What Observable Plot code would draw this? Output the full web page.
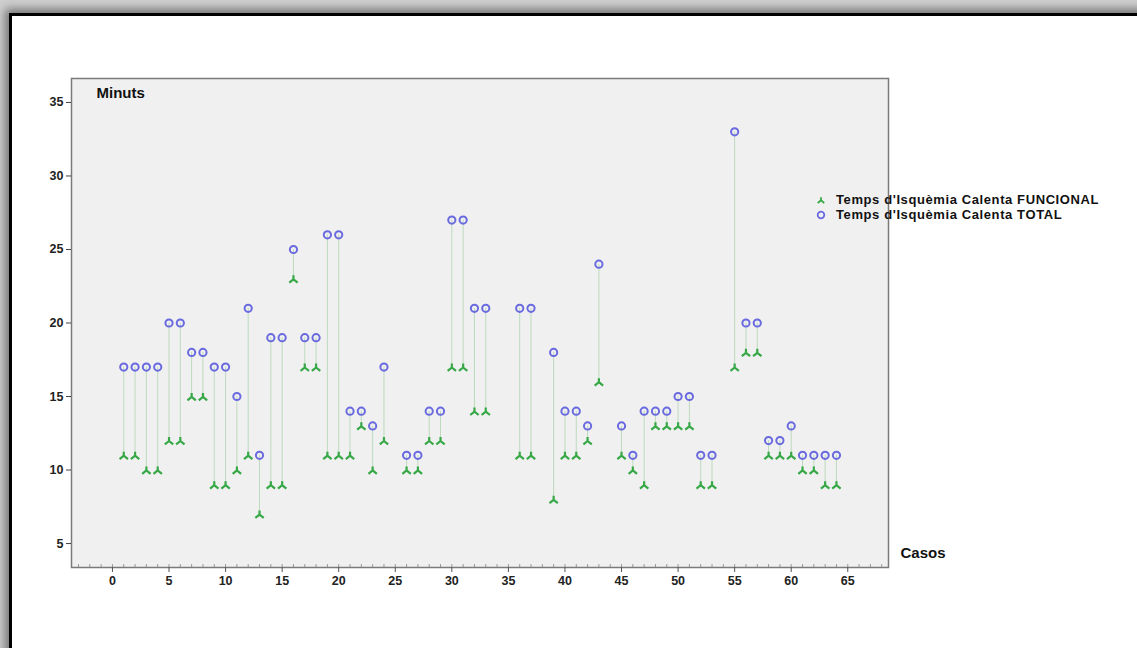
<!DOCTYPE html>
<html>
<head>
<meta charset="utf-8">
<script src="https://cdn.jsdelivr.net/npm/d3@7"></script>
<script src="https://cdn.jsdelivr.net/npm/@observablehq/plot@0.6"></script>
<style>
  html, body { margin: 0; padding: 0; width: 1137px; height: 648px; overflow: hidden; background: #cfcfcf; }
  #frame { position: absolute; left: 9px; top: 13px; width: 1200px; height: 700px; background: #fff;
           border: 3px solid #000; box-shadow: 0 0 9px 4px rgba(0,0,0,0.45); }
  #chart { position: absolute; left: 0; top: 0; }
  #legend { position: absolute; left: 814px; top: 192px; font: bold 13px "Liberation Sans", Arial, sans-serif; color: #111; letter-spacing: 0.6px; }
  #legend div { display: flex; align-items: center; height: 15px; line-height: 15px; white-space: nowrap; }
  #legend svg { margin-right: 8px; }
</style>
</head>
<body>
<div id="frame"></div>
<div id="chart"></div>
<div id="legend"></div>
<script>
const cases = [1,2,3,4,5,6,7,8,9,10,11,12,13,14,15,16,17,18,19,20,21,22,23,24,26,27,28,29,30,31,32,33,36,37,39,40,41,42,43,45,46,47,48,49,50,51,52,53,55,56,57,58,59,60,61,62,63,64];
const funcional = [11,11,10,10,12,12,15,15,9,9,10,11,7,9,9,23,17,17,11,11,11,13,10,12,10,10,12,12,17,17,14,14,11,11,8,11,11,12,16,11,10,9,13,13,13,13,9,9,17,18,18,11,11,11,10,10,9,9];
const total = [17,17,17,17,20,20,18,18,17,17,15,21,11,19,19,25,19,19,26,26,14,14,13,17,11,11,14,14,27,27,21,21,21,21,18,14,14,13,24,13,11,14,14,14,15,15,11,11,33,20,20,12,12,13,11,11,11,11];
const seriesNames = ["Temps d'Isquèmia Calenta FUNCIONAL", "Temps d'Isquèmia Calenta TOTAL"];
const xTicks = [0,5,10,15,20,25,30,35,40,45,50,55,60,65];
const yTicks = [5,10,15,20,25,30,35];
const yLabel = "Minuts";
const xLabel = "Casos";

const greenColor = "#36a846";
const blueColor = "#6a6ae0";
const ruleColor = "#bcdabd";
const font = '"Liberation Sans", Arial, sans-serif';

const data = cases.map((c, i) => ({caso: c, funcional: funcional[i], total: total[i]}));

// inverted "Y" glyph (short stem up, two legs down), scaled by symbol size
const wyeDown = {
  draw(ctx, size) {
    const r = Math.sqrt(size / Math.PI);
    ctx.moveTo(0, r * 0.3);
    ctx.lineTo(0, -r * 0.9);
    ctx.moveTo(0, r * 0.1);
    ctx.lineTo(-r * 1.05, r * 0.95);
    ctx.moveTo(0, r * 0.1);
    ctx.lineTo(r * 1.05, r * 0.95);
  }
};

const minorTicks = d3.range(-3, 69);

const chart = Plot.plot({
  width: 1137,
  height: 648,
  marginLeft: 71,
  marginRight: 249,
  marginTop: 78,
  marginBottom: 81,
  style: {background: "transparent", fontFamily: font, fontSize: "12.5px", fontWeight: "bold", color: "#222"},
  x: {domain: [-3.62, 68.6]},
  y: {domain: [3.37, 36.63]},
  marks: [
    Plot.frame({fill: "#f0f0f0", stroke: "none"}),
    Plot.ruleX(minorTicks, {insetTop: 486, stroke: "#999", strokeWidth: 1}),
    Plot.ruleX(data, {x: "caso", y1: "funcional", y2: "total", stroke: ruleColor, strokeWidth: 1}),
    Plot.dot(data, {x: "caso", y: "total", r: 3.6, stroke: blueColor, strokeWidth: 2, fill: "none"}),
    Plot.dot(data, {x: "caso", y: "funcional", r: 4, symbol: wyeDown, fill: "none", stroke: greenColor, strokeWidth: 2.2, strokeLinecap: "butt"}),
    Plot.frame({stroke: "#7a7a7a", strokeWidth: 1.5}),
    Plot.axisY({ticks: yTicks, tickSize: 5, tickPadding: 3, label: null, stroke: "#444"}),
    Plot.axisX({ticks: xTicks, tickSize: 5, tickPadding: 4, label: null, stroke: "#555"}),
    Plot.text([yLabel], {frameAnchor: "top-left", dx: 25, dy: 9, textAnchor: "start", lineAnchor: "top", fontSize: 15, fontWeight: "bold", fill: "#111"}),
    Plot.text([xLabel], {frameAnchor: "bottom-right", dx: 12, dy: -14, textAnchor: "start", lineAnchor: "middle", fontSize: 15, fontWeight: "bold", fill: "#111"})
  ]
});
document.getElementById("chart").append(chart);

// legend
const legend = document.getElementById("legend");
seriesNames.forEach((name, i) => {
  const row = document.createElement("div");
  const s = d3.create("svg").attr("width", 14).attr("height", 12);
  if (i === 0) {
    s.append("path").attr("d", d3.symbol(wyeDown, 30)()).attr("transform", "translate(7,6)")
      .attr("fill", "none").attr("stroke", greenColor).attr("stroke-width", 1.8);
  } else {
    s.append("circle").attr("cx", 7).attr("cy", 6).attr("r", 3.3).attr("fill", "none").attr("stroke", blueColor).attr("stroke-width", 1.8);
  }
  row.append(s.node());
  const t = document.createElement("span");
  t.textContent = name;
  row.append(t);
  legend.append(row);
});
</script>
</body>
</html>
